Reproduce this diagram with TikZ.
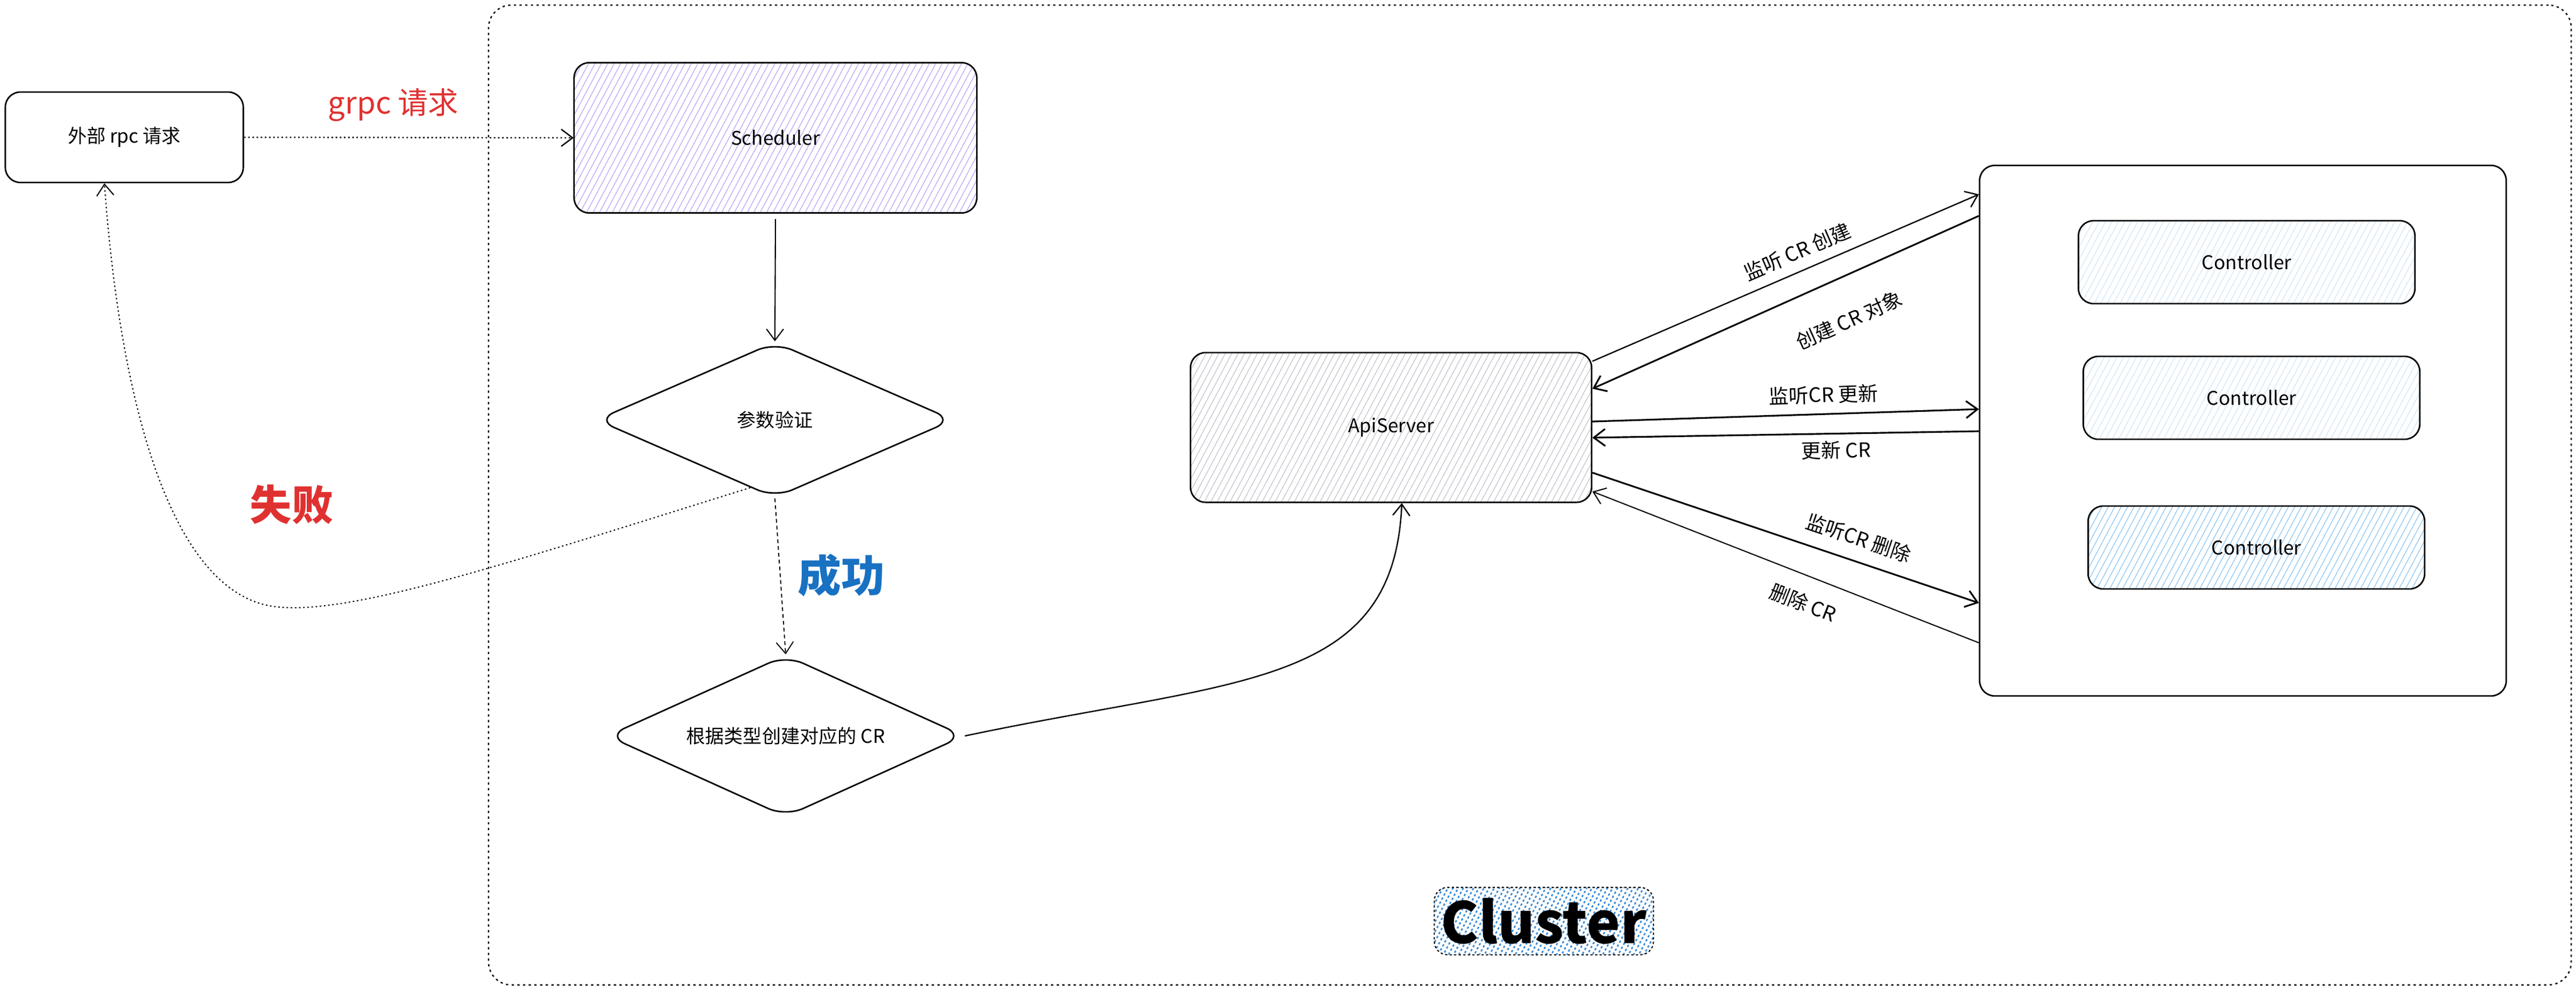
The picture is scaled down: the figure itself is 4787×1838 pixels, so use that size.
\documentclass[tikz,border=0pt]{standalone}
\usepackage{fontspec}
\setmainfont{Noto Sans CJK SC}
\usetikzlibrary{arrows.meta,shapes.geometric,patterns.meta}
\definecolor{redtext}{HTML}{E03131}
\definecolor{bluetext}{HTML}{1971C2}
\definecolor{violethatch}{HTML}{BFAAF7}
\definecolor{greyhatch}{HTML}{C4C8CE}
\definecolor{palehatch}{HTML}{D3E8F8}
\definecolor{bluehatch}{HTML}{92C9F3}
\definecolor{clusterhatch}{HTML}{3A8BD6}
\tikzset{
  box/.style={draw, line width=0.8pt, rounded corners=8pt, inner sep=0pt, font=\fontsize{10}{12}\selectfont},
  hatched/.style={pattern={Lines[angle=62,distance=3pt,line width=0.4pt]}, pattern color=#1},
  decision/.style={draw, diamond, shape aspect=2.2, line width=0.8pt, rounded corners=10pt, inner sep=0pt, font=\fontsize{10}{12}\selectfont},
  frame/.style={draw, line width=0.7pt, dash pattern=on 1.2pt off 1.8pt, rounded corners=12pt, inner sep=0pt},
  tag/.style={draw, line width=0.6pt, dash pattern=on 1.2pt off 1.2pt, rounded corners=7pt,
    pattern={Lines[angle=62,distance=2.4pt,line width=0.8pt]}, pattern color=clusterhatch,
    minimum width=4.07cm, minimum height=1.25cm, font=\fontsize{30}{34}\selectfont\bfseries},
  arr/.style={-{Straight Barb[length=6pt,width=9pt]}, line width=0.7pt},
  dots/.style={dash pattern=on 0.8pt off 1.4pt},
  edgelbl/.style={font=\fontsize{10.5}{12}\selectfont, sloped},
}
\begin{document}
\begin{tikzpicture}[x=0.01cm, y=-0.01cm]
\useasboundingbox (0,0) rectangle (4787,1838);
% cluster
\node[frame, minimum width=38.68cm, minimum height=18.19cm] (cluster) at (2843,919.5) {};
\node[tag] (clustertag) at (2869,1711) {Cluster};
% left side
\node[box, minimum width=4.42cm, minimum height=1.68cm] (ext) at (231,255) {外部 rpc 请求};
\node[box, hatched=violethatch, minimum width=7.48cm, minimum height=2.79cm] (sched) at (1441,256) {Scheduler};
\node[decision, minimum width=6.63cm, minimum height=2.89cm] (check) at (1440,780) {参数验证};
\node[decision, minimum width=6.63cm, minimum height=3.0cm] (create) at (1460,1367) {根据类型创建对应的 CR};
\node[text=redtext, font=\fontsize{16}{18}\selectfont] (grpclbl) at (731,195) {grpc 请求};
\node[text=redtext, font=\fontsize{22}{24}\selectfont\bfseries] (faillbl) at (542,937) {失败};
\node[text=bluetext, font=\fontsize{23}{25}\selectfont\bfseries] (oklbl) at (1563,1069) {成功};
% right side
\node[box, hatched=greyhatch, minimum width=7.45cm, minimum height=2.78cm] (api) at (2585,794) {ApiServer};
\node[box, minimum width=9.78cm, minimum height=9.85cm] (ctrls) at (4168,800) {};
\node[box, hatched=palehatch, minimum width=6.25cm, minimum height=1.54cm] (ctrla) at (4175,487) {Controller};
\node[box, hatched=palehatch, minimum width=6.25cm, minimum height=1.54cm] (ctrlb) at (4184,739) {Controller};
\node[box, hatched=bluehatch, minimum width=6.25cm, minimum height=1.54cm] (ctrlc) at (4193,1017) {Controller};
% flow
\draw[arr, dots] (ext.east) -- (sched.west);
\draw[arr, line width=0.6pt] ([yshift=-3pt]sched.south) -- (check.north);
\draw[arr, line width=0.55pt, dash pattern=on 2pt off 1.6pt] (check.south) -- (create.north);
\draw[arr, line width=0.6pt, dots] (check.250) .. controls (900,1060) and (600,1160) .. (480,1120)
  .. controls (300,1060) and (220,700) .. (ext.south -| 194,0);
\draw[arr] (create.east) .. controls (2300,1260) and (2590,1280) .. ([xshift=0.2cm]api.south);
% apiserver <-> controllers
\draw[arr] (api.east |- 0,671) -- node[edgelbl, above, pos=0.55, inner sep=5pt] (lbla) {监听 CR 创建} (ctrls.west |- 0,361);
\draw[arr, line width=0.9pt] (ctrls.west |- 0,401) -- node[edgelbl, below, pos=0.38, inner sep=17pt] (lblb) {创建 CR 对象} (api.east |- 0,722);
\draw[arr, line width=0.9pt] (api.east |- 0,783) -- node[edgelbl, above, pos=0.6, inner sep=5pt] (lblc) {监听CR 更新} (ctrls.west |- 0,760);
\draw[arr, line width=0.9pt] (ctrls.west |- 0,801) -- node[edgelbl, below, pos=0.37, inner sep=3.5pt] (lbld) {更新 CR} (api.east |- 0,813);
\draw[arr, line width=0.9pt] (api.east |- 0,878) -- node[edgelbl, above, pos=0.67, inner sep=7pt] (lble) {监听CR 删除} (ctrls.west |- 0,1120);
\draw[arr, line width=0.6pt] (ctrls.west |- 0,1194) -- node[edgelbl, below, pos=0.43, inner sep=9pt] (lblf) {删除 CR} (api.east |- 0,913);
\end{tikzpicture}
\end{document}
